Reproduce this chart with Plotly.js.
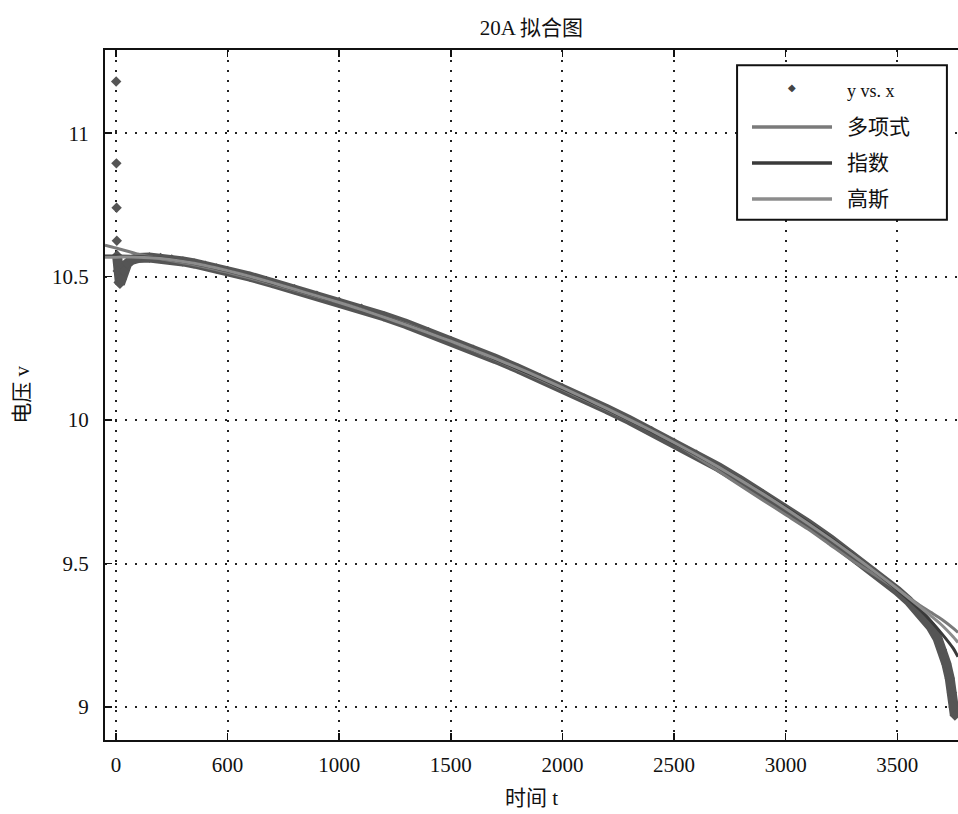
<!DOCTYPE html>
<html>
<head>
<meta charset="utf-8">
<script src="https://cdn.plot.ly/plotly-3.0.1.min.js"></script>
<style>
  html, body { margin: 0; padding: 0; background: #fff; overflow: hidden; }
  #chart { width: 958px; height: 814px; }
</style>
</head>
<body>
<div id="chart"></div>
<script>
// ---- data ----
const chartTitle = '20A 拟合图';
const xTitle = '时间 t';
const yTitle = '电压 v';
const seriesNames = ['y vs. x', '多项式', '指数', '高斯'];

// measured samples (null marks breaks between the isolated first readings)
const time = [1, 1, 2, 2, 3, 3, 4, 4, 5, 8, 12, 18, 25, 35, 50, 70, 100, 150, 200, 250, 300, 350, 400, 450,
  500, 600, 700, 800, 900, 1000, 1100, 1200, 1300, 1400, 1500, 1600, 1700, 1800, 1900, 2000,
  2100, 2200, 2300, 2400, 2500, 2600, 2700, 2800, 2900, 3000, 3100, 3200, 3300, 3400, 3500,
  3550, 3600, 3650, 3680, 3700, 3720, 3735, 3745, 3752, 3758];
const voltage = [11.18, null, 10.895, null, 10.74, null, 10.625, null, 10.575, 10.52, 10.48, 10.475, 10.49, 10.52, 10.545, 10.558, 10.565, 10.567, 10.565, 10.56, 10.553, 10.546, 10.538, 10.529,
  10.52, 10.5, 10.478, 10.456, 10.434, 10.412, 10.388, 10.362, 10.335, 10.306, 10.276, 10.245, 10.213, 10.18, 10.146, 10.111,
  10.075, 10.038, 10.0, 9.961, 9.921, 9.879, 9.835, 9.789, 9.741, 9.691, 9.639, 9.585, 9.528, 9.468, 9.405,
  9.37, 9.33, 9.28, 9.24, 9.20, 9.15, 9.10, 9.05, 9.0, 8.97];

// fitted curves
const fitTime = [-49, 0, 100, 200, 300, 400, 500, 600, 700, 800, 900, 1000, 1100, 1200, 1300, 1400, 1500,
  1600, 1700, 1800, 1900, 2000, 2100, 2200, 2300, 2400, 2500, 2600, 2700, 2800, 2900, 3000,
  3100, 3200, 3300, 3400, 3500, 3600, 3650, 3700, 3750, 3772];
const polyFit = [10.61, 10.60, 10.578, 10.562, 10.548, 10.533, 10.515, 10.495, 10.474, 10.452, 10.43, 10.41, 10.386, 10.36, 10.335, 10.305, 10.275,
  10.243, 10.21, 10.176, 10.142, 10.107, 10.071, 10.035, 9.998, 9.96, 9.92, 9.872, 9.822, 9.77, 9.72, 9.67,
  9.62, 9.565, 9.51, 9.46, 9.41, 9.355, 9.33, 9.305, 9.275, 9.26];
const expFit = [10.572, 10.572, 10.57, 10.564, 10.553, 10.538, 10.52, 10.5, 10.478, 10.455, 10.432, 10.41, 10.385, 10.36, 10.333, 10.305, 10.275,
  10.244, 10.212, 10.179, 10.145, 10.11, 10.074, 10.037, 9.999, 9.96, 9.92, 9.879, 9.836, 9.791, 9.744, 9.695,
  9.643, 9.589, 9.532, 9.472, 9.408, 9.34, 9.30, 9.255, 9.205, 9.175];
const gaussFit = [10.568, 10.568, 10.568, 10.563, 10.553, 10.539, 10.521, 10.501, 10.479, 10.456, 10.433, 10.41, 10.385, 10.359, 10.332, 10.304, 10.275,
  10.245, 10.214, 10.182, 10.148, 10.113, 10.077, 10.04, 10.002, 9.963, 9.922, 9.88, 9.836, 9.79, 9.742, 9.692,
  9.64, 9.586, 9.53, 9.472, 9.412, 9.35, 9.318, 9.285, 9.245, 9.225];

const xTickVals = [0, 500, 1000, 1500, 2000, 2500, 3000, 3500];
const xTickText = ['0', '600', '1000', '1500', '2000', '2500', '3000', '3500'];
const yTickVals = [9, 9.5, 10, 10.5, 11];
const yTickText = ['9', '9.5', '10', '10.5', '11'];

// ---- styling ----
const FONT = 'Liberation Serif, "Noto Sans CJK SC", serif';
const colData = '#555555';
const colPoly = '#7a7a7a';
const colExp = '#3a3a3a';
const colGauss = '#8c8c8c';

const traces = [
  { x: time, y: voltage, name: seriesNames[0], mode: 'lines+markers', connectgaps: false,
    line: { color: colData, width: 10 }, marker: { symbol: 'diamond', size: 8, color: colData }, showlegend: false },
  { x: fitTime, y: polyFit, name: seriesNames[1], mode: 'lines',
    line: { color: colPoly, width: 3, shape: 'spline', smoothing: 0.6 }, showlegend: false },
  { x: fitTime, y: expFit, name: seriesNames[2], mode: 'lines',
    line: { color: colExp, width: 3, shape: 'spline', smoothing: 0.6 }, showlegend: false },
  { x: fitTime, y: gaussFit, name: seriesNames[3], mode: 'lines',
    line: { color: colGauss, width: 3, shape: 'spline', smoothing: 0.6 }, showlegend: false }
];

// custom legend (drawn in paper coordinates)
const legX0 = 0.741, legX1 = 0.987, legY0 = 0.754, legY1 = 0.978;
const rowY = [0.9406, 0.8884, 0.8362, 0.7841];
const lineX0 = 0.7585, lineX1 = 0.8523, textX = 0.868;
const legColors = [colData, colPoly, colExp, colGauss];

const shapes = [
  { type: 'rect', xref: 'paper', yref: 'paper', x0: legX0, x1: legX1, y0: legY0, y1: legY1,
    line: { color: '#111', width: 2 }, fillcolor: '#fff', layer: 'above' }
];
for (let i = 1; i < 4; i++) {
  shapes.push({ type: 'line', xref: 'paper', yref: 'paper', x0: lineX0, x1: lineX1, y0: rowY[i], y1: rowY[i],
    line: { color: legColors[i], width: 3.5 }, layer: 'above' });
}
const annotations = [
  { xref: 'paper', yref: 'paper', x: (lineX0 + lineX1) / 2, y: rowY[0] + 0.005, text: '◆', showarrow: false,
    font: { family: 'DejaVu Sans', size: 10, color: '#444' }, xanchor: 'center', yanchor: 'middle' }
];
for (let i = 0; i < 4; i++) {
  annotations.push({ xref: 'paper', yref: 'paper', x: textX, y: rowY[i], text: seriesNames[i], showarrow: false,
    xanchor: 'left', yanchor: 'middle', font: { family: FONT, size: i === 0 ? 18 : 21, color: '#111' } });
}

const layout = {
  width: 958, height: 814,
  margin: { l: 105, r: 0, t: 50, b: 74 },
  paper_bgcolor: '#fff', plot_bgcolor: '#fff',
  font: { family: FONT, size: 21, color: '#111' },
  title: { text: chartTitle, x: 0.5, xref: 'paper', y: 0.966, yref: 'container', yanchor: 'middle',
    font: { family: FONT, size: 21, color: '#111' } },
  xaxis: {
    range: [-49, 3772], tickmode: 'array', tickvals: xTickVals, ticktext: xTickText,
    ticks: 'inside', ticklen: 7, tickwidth: 1.5, tickcolor: '#111',
    showline: true, linecolor: '#111', linewidth: 2, mirror: 'ticks',
    showgrid: true, gridcolor: '#222', gridwidth: 2, griddash: '2px,8px', zeroline: false,
    ticklabelstandoff: 5,
    title: { text: xTitle, standoff: 14, font: { family: FONT, size: 21 } }
  },
  yaxis: {
    range: [8.885, 11.29], tickmode: 'array', tickvals: yTickVals, ticktext: yTickText,
    ticks: 'inside', ticklen: 7, tickwidth: 1.5, tickcolor: '#111',
    showline: true, linecolor: '#111', linewidth: 2, mirror: false,
    showgrid: true, gridcolor: '#222', gridwidth: 2, griddash: '2px,8px', zeroline: false,
    ticklabelstandoff: 10,
    title: { text: yTitle, standoff: 17, font: { family: FONT, size: 21 } }
  },
  shapes: shapes,
  annotations: annotations,
  showlegend: false
};

Plotly.newPlot('chart', traces, layout, { displayModeBar: false, staticPlot: true });
</script>
</body>
</html>
